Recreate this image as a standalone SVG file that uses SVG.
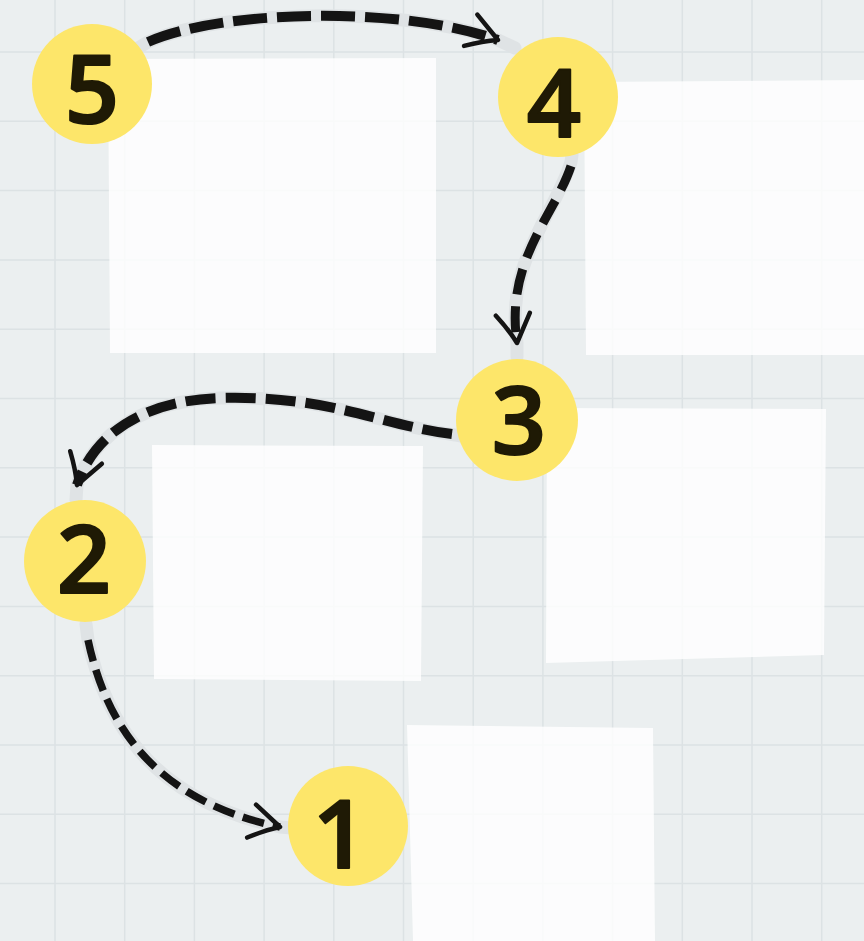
<svg xmlns="http://www.w3.org/2000/svg" width="864" height="941" viewBox="0 0 864 941">
  <defs>
    <style>
      .bg { fill: #ebeff0; }
      .grid { stroke: #dce2e4; stroke-width: 1.5; fill: none; }
      .paper { fill: #ffffff; fill-opacity: 0.82; }
      .halo { fill: none; stroke: #dfe3e5; stroke-width: 13; stroke-linecap: round; }
      .dash { fill: none; stroke: #141414; stroke-linecap: butt; }
      .dot { fill: #fde66a; }
      .num { font-family: "Open Sans", "Liberation Sans", sans-serif; font-weight: 600; font-size: 95px; fill: #1f1a05; stroke: #1f1a05; stroke-width: 2; stroke-linejoin: round; text-anchor: middle; }
    </style>
    <marker id="arr" markerUnits="userSpaceOnUse" markerWidth="50" markerHeight="50" viewBox="-36 -25 42 50" refX="0" refY="0" orient="auto">
      <path d="M-28,-17 Q-10,-6 0,0 Q-14,6 -30,17" fill="none" stroke="#141414" stroke-width="4.5" stroke-linecap="round" stroke-linejoin="round"/>
    </marker>
  </defs>

  <rect class="bg" x="0" y="0" width="864" height="941"/>

  <g id="grid">
    <path class="grid" d="M55,0V941 M124.7,0V941 M194.4,0V941 M264.1,0V941 M333.8,0V941 M403.5,0V941 M473.2,0V941 M542.9,0V941 M612.6,0V941 M682.3,0V941 M752,0V941 M821.7,0V941
      M0,52H864 M0,121.3H864 M0,190.6H864 M0,259.9H864 M0,329.2H864 M0,398.5H864 M0,467.8H864 M0,537.1H864 M0,606.4H864 M0,675.7H864 M0,745H864 M0,814.3H864 M0,883.6H864"/>
  </g>

  <g id="papers">
    <polygon class="paper" points="108,59 436,58 436,353 110,353"/>
    <polygon class="paper" points="584,82 864,80 864,355 586,355"/>
    <polygon class="paper" points="152,445 423,446 421,681 154,679"/>
    <polygon class="paper" points="547,408 826,409 824,655 546,663"/>
    <polygon class="paper" points="407,725 653,728 655,941 413,941"/>
  </g>

  <g id="connectors">
    <path class="halo" d="M138,48 L148,42 C220,10 400,5 498,40 L515,48"/>
    <path class="dash" stroke-width="10" stroke-dasharray="34 10" d="M148,42 C220,10 400,5 498,40" marker-end="url(#arr)"/>
    <path class="halo" d="M572,155 L571,162 C555,215 505,260 517,343 L517,357"/>
    <path class="dash" stroke-width="9" stroke-dasharray="26 12" d="M571,166 C555,215 505,260 517,343" marker-end="url(#arr)"/>
    <path class="halo" d="M460,436 L455,435 C380,425 330,395 220,398 C150,400 95,430 77,485 L76,500"/>
    <path class="dash" stroke-width="10" stroke-dasharray="30 10" d="M452,434 C380,425 330,395 220,398 C150,400 95,430 77,485" marker-end="url(#arr)"/>
    <path class="halo" d="M86,624 L88,640 C105,720 150,800 280,827 L292,828"/>
    <path class="dash" stroke-width="7.5" stroke-dasharray="22 9" d="M88,640 C105,720 150,800 280,827" marker-end="url(#arr)"/>
  </g>

  <g id="node5">
    <circle class="dot" cx="92" cy="84" r="60"/>
    <text class="num" x="92" y="123">5</text>
  </g>
  <g id="node4">
    <circle class="dot" cx="558" cy="97" r="60"/>
    <text class="num" x="554" y="137">4</text>
  </g>
  <g id="node3">
    <circle class="dot" cx="517" cy="420" r="61"/>
    <text class="num" x="519" y="454">3</text>
  </g>
  <g id="node2">
    <circle class="dot" cx="85" cy="561" r="61"/>
    <text class="num" x="84" y="593">2</text>
  </g>
  <g id="node1">
    <circle class="dot" cx="348" cy="826" r="60"/>
    <text class="num" x="340" y="868">1</text>
  </g>
</svg>
